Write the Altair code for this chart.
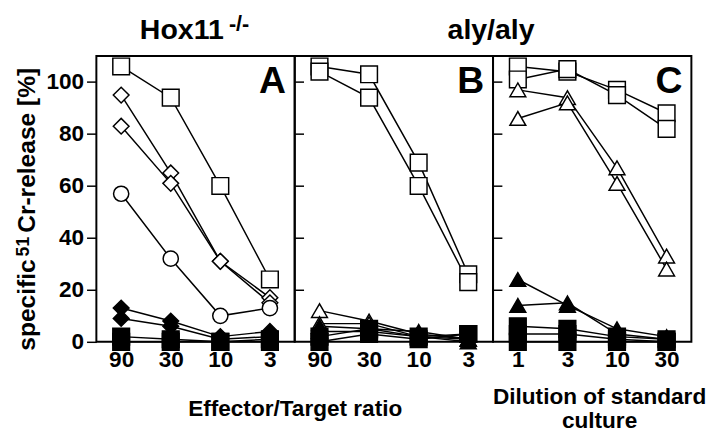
import altair as alt
import pandas as pd

FONT = "Liberation Sans"

x_ratio = ["90", "30", "10", "3"]
x_dilution = ["1", "3", "10", "30"]
y_ticks = [0, 20, 40, 60, 80, 100]
inner_ticks = [20, 40, 60, 80, 100]

# Panel A (Hox11-/-), E/T ratio 90, 30, 10, 3
A_open_square = [106, 94, 60, 24]
A_open_diamond1 = [95, 65, 31, 17]
A_open_diamond2 = [83, 61, 31, 15]
A_open_circle = [57, 32, 10, 13]
A_filled_diamond1 = [13, 8, 2, 4]
A_filled_diamond2 = [9, 6, 1, 2]
A_filled_square1 = [2, 1, 0, 1]
A_filled_square2 = [0, 0, 0, 0]

# Panel B (aly/aly), E/T ratio 90, 30, 10, 3
B_open_square1 = [106, 103, 69, 26]
B_open_square2 = [104, 94, 60, 23]
B_open_triangle1 = [12, 8, 3, 1]
B_open_triangle2 = [7, 7, 2, 1]
B_filled_triangle1 = [6, 5, 4, 1]
B_filled_triangle2 = [4, 4, 2, 0]
B_filled_square1 = [2, 5, 2, 3]
B_filled_square2 = [0, 3, 1, 3]

# Panel C (aly/aly), dilution 1, 3, 10, 30
C_open_square1 = [106, 104, 97, 88]
C_open_square2 = [101, 105, 95, 82]
C_open_triangle1 = [97, 94, 67, 33]
C_open_triangle2 = [86, 92, 61, 28]
C_filled_triangle1 = [24, 14, 5, 2]
C_filled_triangle2 = [14, 15, 3, 1]
C_filled_square1 = [6, 5, 2, 1]
C_filled_square2 = [3, 3, 1, 0]
C_filled_square3 = [0, 0, 0, 0]

series = [
    ("A", "a1", "square", "white", A_open_square),
    ("A", "a2", "diamond", "white", A_open_diamond1),
    ("A", "a3", "diamond", "white", A_open_diamond2),
    ("A", "a4", "circle", "white", A_open_circle),
    ("A", "a5", "diamond", "black", A_filled_diamond1),
    ("A", "a6", "diamond", "black", A_filled_diamond2),
    ("A", "a7", "square", "black", A_filled_square1),
    ("A", "a8", "square", "black", A_filled_square2),
    ("B", "b1", "square", "white", B_open_square1),
    ("B", "b2", "square", "white", B_open_square2),
    ("B", "b3", "triangle-up", "white", B_open_triangle1),
    ("B", "b4", "triangle-up", "white", B_open_triangle2),
    ("B", "b5", "triangle-up", "black", B_filled_triangle1),
    ("B", "b6", "triangle-up", "black", B_filled_triangle2),
    ("B", "b7", "square", "black", B_filled_square1),
    ("B", "b8", "square", "black", B_filled_square2),
    ("C", "c1", "square", "white", C_open_square1),
    ("C", "c2", "square", "white", C_open_square2),
    ("C", "c3", "triangle-up", "white", C_open_triangle1),
    ("C", "c4", "triangle-up", "white", C_open_triangle2),
    ("C", "c5", "triangle-up", "black", C_filled_triangle1),
    ("C", "c6", "triangle-up", "black", C_filled_triangle2),
    ("C", "c7", "square", "black", C_filled_square1),
    ("C", "c8", "square", "black", C_filled_square2),
    ("C", "c9", "square", "black", C_filled_square3),
]

marker_size = {"square": 289, "diamond": 256, "circle": 240, "triangle-up": 260}

rows = []
for panel, sid, shape, fill, vals in series:
    cats = x_dilution if panel == "C" else x_ratio
    for i, (c, v) in enumerate(zip(cats, vals)):
        rows.append({"panel": panel, "series": sid, "xi": i, "x": c, "v": v,
                     "shape": shape, "fill": fill, "size": marker_size[shape]})
df = pd.DataFrame(rows)

W, H = 202, 291


def text_layer(txt, x, y, size, align="center", baseline="alphabetic", angle=0):
    return alt.Chart(pd.DataFrame({"t": [txt]})).mark_text(
        font=FONT, fontWeight="bold", fontSize=size, align=align,
        baseline=baseline, color="black", angle=angle
    ).encode(x=alt.value(x), y=alt.value(y), text="t:N")


def panel(p, order, letter, first, xtitle=None, xtitle_x=0, xtitle_y=0, extras=()):
    d = df[df.panel == p]
    xaxis_kw = dict(labelAngle=0, ticks=False, domain=False, labelFont=FONT,
                    labelFontSize=23, labelFontWeight="bold", labelPadding=7,
                    labelColor="black")
    if xtitle is not None:
        xaxis_kw.update(title=xtitle, titleX=xtitle_x, titleY=xtitle_y,
                        titleFont=FONT, titleFontSize=23, titleFontWeight="bold",
                        titleAlign="center", titleBaseline="top", titleColor="black",
                        titleLineHeight=24)
    else:
        xaxis_kw.update(title=None)
    x = alt.X("x:N", sort=order,
              scale=alt.Scale(type="point", padding=0.5, domain=order),
              axis=alt.Axis(**xaxis_kw))
    if first:
        yaxis = alt.Axis(values=y_ticks, title=None,
                         labelFont=FONT, labelFontSize=23, labelFontWeight="bold",
                         labelColor="black", labelPadding=3,
                         tickSize=10, tickWidth=1.5, tickColor="black",
                         domain=False, grid=False)
    else:
        yaxis = alt.Axis(values=inner_ticks, labels=False, title=None,
                         tickSize=9, tickWidth=1.5, tickColor="black",
                         offset=-9, domain=False, grid=False)
    y = alt.Y("v:Q", scale=alt.Scale(domain=[0, 110], nice=False, zero=True), axis=yaxis)

    lines = alt.Chart(d).mark_line(color="black", strokeWidth=1.5).encode(
        x=x, y=y, detail="series:N", order="xi:Q")
    points = alt.Chart(d).mark_point(filled=True, stroke="black", strokeWidth=1.5,
                                     opacity=1).encode(
        x=x, y=y,
        shape=alt.Shape("shape:N", scale=None),
        fill=alt.Fill("fill:N", scale=None),
        size=alt.Size("size:Q", scale=None),
        detail="series:N")
    lab = text_layer(letter, 193, 38, 38, align="right")
    layers = [lines, points, lab] + list(extras)
    return alt.layer(*layers).properties(width=W, height=H)


pA = panel("A", x_ratio, "A", True, xtitle="Effector/Target ratio",
           xtitle_x=W, xtitle_y=57,
           extras=[text_layer("Hox11", 87, -17, 29),
                   text_layer("-/-", 135, -26, 22, align="left"),
                   text_layer("specific", -63, 300, 25, align="left", angle=270),
                   text_layer("51", -69, 204, 18, align="left", angle=270),
                   text_layer("Cr-release [%]", -63, 180, 25, align="left", angle=270)])
pB = panel("B", x_ratio, "B", False,
           extras=[text_layer("aly/aly", 200, -17, 29)])
pC = panel("C", x_dilution, "C", False,
           xtitle=["Dilution of standard", "culture"], xtitle_x=W / 2 + 7, xtitle_y=45)

chart = alt.hconcat(pA, pB, pC, spacing=0, bounds="flush").properties(
    padding={"left": 5, "top": 0, "right": 5, "bottom": 2},
    background="white",
).configure_view(stroke="black", strokeWidth=2)

chart.save("out.html", embed_options={"renderer": "svg", "actions": False})
